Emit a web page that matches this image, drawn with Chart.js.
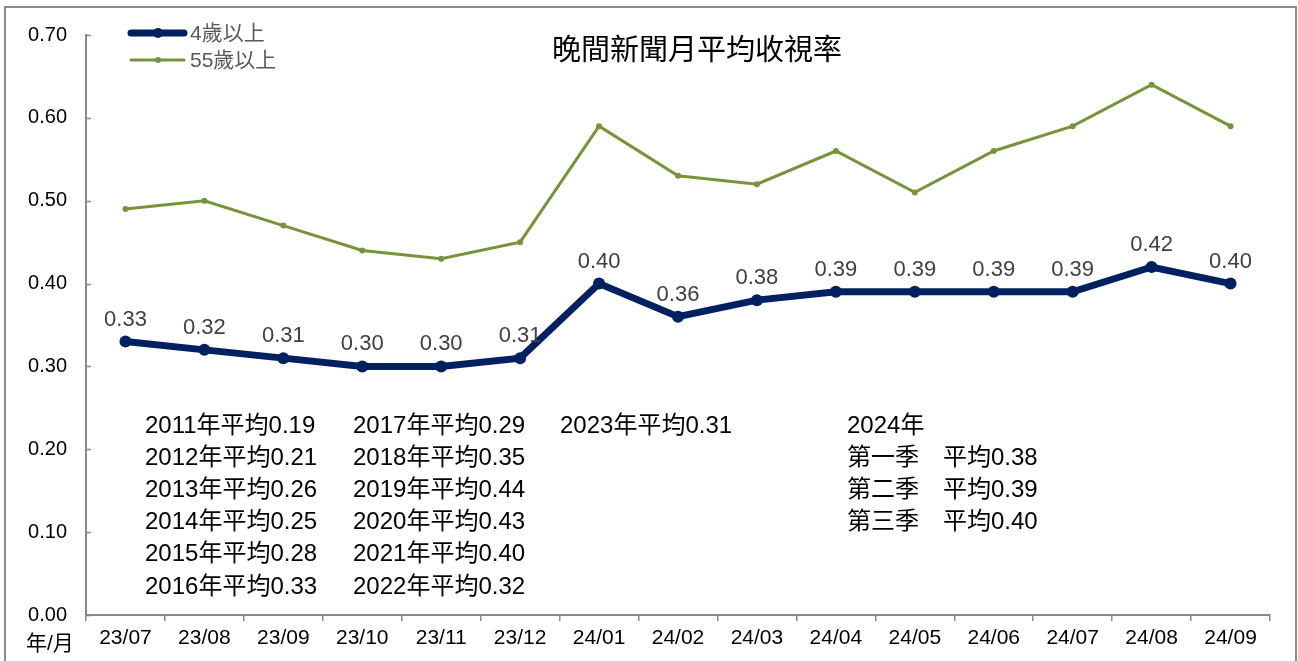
<!DOCTYPE html>
<html>
<head>
<meta charset="utf-8">
<script src="https://cdn.jsdelivr.net/npm/chart.js@4.4.1/dist/chart.umd.min.js"></script>
<style>
html,body{margin:0;padding:0;background:#fff;}
#wrap{position:relative;width:1298px;height:661px;}
</style>
</head>
<body>
<div id="wrap"><canvas id="c" width="1298" height="661"></canvas></div>
<script>
const months = ['23/07','23/08','23/09','23/10','23/11','23/12','24/01','24/02','24/03','24/04','24/05','24/06','24/07','24/08','24/09'];
const age4 = [0.33,0.32,0.31,0.30,0.30,0.31,0.40,0.36,0.38,0.39,0.39,0.39,0.39,0.42,0.40];
const age55 = [0.49,0.50,0.47,0.44,0.43,0.45,0.59,0.53,0.52,0.56,0.51,0.56,0.59,0.64,0.59];
const yTicks = [0,0.1,0.2,0.3,0.4,0.5,0.6,0.7];
const seriesNames = ['4歲以上','55歲以上'];
const titleText = '晚間新聞月平均收視率';
const axisUnit = '年/月';
const notesCol1 = ['2011年平均0.19','2012年平均0.21','2013年平均0.26','2014年平均0.25','2015年平均0.28','2016年平均0.33'];
const notesCol2 = ['2017年平均0.29','2018年平均0.35','2019年平均0.44','2020年平均0.43','2021年平均0.40','2022年平均0.32'];
const notesCol3 = ['2023年平均0.31'];
const notesCol4 = ['2024年','第一季　平均0.38','第二季　平均0.39','第三季　平均0.40'];

const FONT = "'Liberation Sans', Arial, 'Noto Sans CJK TC', sans-serif";
const BLUE = '#002060';
const GREEN = '#77933C';
const AXIS = '#898989';

const decor = {
  id: 'decor',
  afterDraw(chart) {
    const ctx = chart.ctx;
    const ca = chart.chartArea;
    const y = chart.scales.y;
    ctx.save();
    // outer frame
    ctx.strokeStyle = '#8c8c8c';
    ctx.lineWidth = 2;
    ctx.strokeRect(5, 7, 1291, 670);
    // inward y tick marks
    ctx.strokeStyle = AXIS;
    ctx.lineWidth = 1.5;
    y.ticks.forEach((t, i) => {
      const py = Math.round(y.getPixelForTick(i)) + 0.5;
      ctx.beginPath();
      ctx.moveTo(ca.left, py);
      ctx.lineTo(ca.left + 5, py);
      ctx.stroke();
    });
    // title
    ctx.fillStyle = '#000';
    ctx.font = "29px " + FONT;
    ctx.textAlign = 'center';
    ctx.textBaseline = 'middle';
    ctx.fillText(titleText, 697, 52);
    // axis unit
    ctx.font = "21px " + FONT;
    ctx.textAlign = 'left';
    ctx.fillText(axisUnit, 26, 644);
    // legend
    const leg = [{c: BLUE, w: 7, r: 5, y: 33}, {c: GREEN, w: 3, r: 3, y: 60}];
    leg.forEach((l, i) => {
      ctx.strokeStyle = l.c;
      ctx.lineWidth = l.w;
      ctx.lineCap = 'round';
      ctx.beginPath();
      ctx.moveTo(131, l.y);
      ctx.lineTo(184, l.y);
      ctx.stroke();
      ctx.fillStyle = l.c;
      ctx.beginPath();
      ctx.arc(158, l.y, l.r, 0, Math.PI * 2);
      ctx.fill();
      ctx.fillStyle = '#595959';
      ctx.font = "21px " + FONT;
      ctx.textAlign = 'left';
      ctx.textBaseline = 'middle';
      ctx.fillText(seriesNames[i], 190, l.y + 1);
    });
    // data labels for series 1
    const meta = chart.getDatasetMeta(0);
    ctx.fillStyle = '#404040';
    ctx.font = "22px " + FONT;
    ctx.textAlign = 'center';
    ctx.textBaseline = 'middle';
    meta.data.forEach((pt, i) => {
      ctx.fillText(age4[i].toFixed(2), pt.x, pt.y - 22);
    });
    // notes
    ctx.fillStyle = '#000';
    ctx.font = "24px " + FONT;
    ctx.textAlign = 'left';
    const step = 32.2;
    notesCol1.forEach((s, i) => ctx.fillText(s, 145, 426 + i * step));
    notesCol2.forEach((s, i) => ctx.fillText(s, 353, 426 + i * step));
    notesCol3.forEach((s, i) => ctx.fillText(s, 560, 426 + i * step));
    notesCol4.forEach((s, i) => ctx.fillText(s, 847, 426 + i * step));
    ctx.restore();
  }
};

new Chart(document.getElementById('c'), {
  type: 'line',
  data: {
    labels: months,
    datasets: [
      {
        label: seriesNames[0],
        data: age4,
        borderColor: BLUE,
        backgroundColor: BLUE,
        borderWidth: 7,
        pointRadius: 6,
        pointBorderWidth: 0,
        pointBackgroundColor: BLUE,
        tension: 0,
        order: 1
      },
      {
        label: seriesNames[1],
        data: age55,
        borderColor: GREEN,
        backgroundColor: GREEN,
        borderWidth: 3,
        pointRadius: 3,
        pointBorderWidth: 0,
        pointBackgroundColor: GREEN,
        tension: 0,
        order: 2
      }
    ]
  },
  options: {
    responsive: false,
    animation: false,
    devicePixelRatio: 1,
    layout: { padding: { left: 0, right: 28, top: 35, bottom: 0 } },
    plugins: { legend: { display: false }, title: { display: false }, tooltip: { enabled: false } },
    scales: {
      x: {
        type: 'category',
        offset: true,
        afterFit(s) { s.height = 46; },
        grid: { display: true, offset: true, drawOnChartArea: false, drawTicks: true, tickLength: 6, color: AXIS, lineWidth: 1.5 },
        border: { display: true, color: AXIS, width: 2 },
        ticks: { color: '#000', font: { family: FONT, size: 21 }, padding: 5, maxRotation: 0, autoSkip: false }
      },
      y: {
        min: 0,
        max: 0.7,
        afterFit(s) { s.width = 86; },
        afterBuildTicks(s) { s.ticks = yTicks.map(v => ({ value: v })); },
        grid: { display: false, drawTicks: false },
        border: { display: true, color: AXIS, width: 2 },
        ticks: { color: '#000', font: { family: FONT, size: 20 }, padding: 19, callback: v => v.toFixed(2) }
      }
    }
  },
  plugins: [decor]
});
</script>
</body>
</html>
